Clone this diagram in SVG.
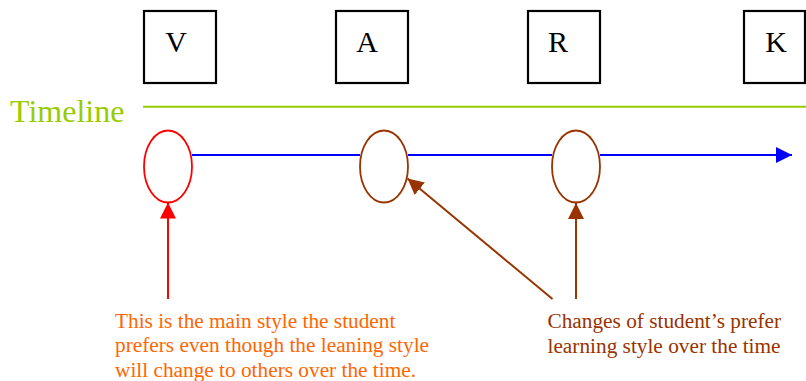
<svg xmlns="http://www.w3.org/2000/svg" width="806" height="381" viewBox="0 0 806 381">
  <style>
    .box { fill: #fff; stroke: #000; stroke-width: 2.2; }
    .letter { font-family: "Liberation Serif", "Times New Roman", serif; font-size: 30px; fill: #000; text-anchor: middle; }
    .stage { fill: none; stroke-width: 1.8; }
    .note { font-family: "Liberation Serif", "Times New Roman", serif; font-size: 21.3px; }
  </style>
  <defs>
    <marker id="headBlue" viewBox="0 0 16 16" refX="16" refY="8" markerWidth="16" markerHeight="16" markerUnits="userSpaceOnUse" orient="auto">
      <path d="M0,0 L16,8 L0,16 Z" fill="#0000ff"/>
    </marker>
    <marker id="headRed" viewBox="0 0 16 16" refX="16" refY="8" markerWidth="16" markerHeight="16" markerUnits="userSpaceOnUse" orient="auto">
      <path d="M0,0 L16,8 L0,16 Z" fill="#ff0000"/>
    </marker>
    <marker id="headBrown" viewBox="0 0 16 16" refX="16" refY="8" markerWidth="16" markerHeight="16" markerUnits="userSpaceOnUse" orient="auto">
      <path d="M0,0 L16,8 L0,16 Z" fill="#993300"/>
    </marker>
  </defs>

  <rect width="806" height="381" fill="#fff"/>

  <!-- learning style boxes -->
  <g id="box-v"><rect class="box" x="144" y="11" width="72" height="72"/><text class="letter" x="176" y="52">V</text></g>
  <g id="box-a"><rect class="box" x="336" y="11" width="72" height="72"/><text class="letter" x="367" y="52">A</text></g>
  <g id="box-r"><rect class="box" x="528" y="11" width="72" height="72"/><text class="letter" x="558" y="52">R</text></g>
  <g id="box-k"><rect class="box" x="744" y="11" width="61" height="72"/><text class="letter" x="776" y="52">K</text></g>

  <!-- timeline label -->
  <g id="timeline">
    <text x="10" y="122" font-family="Liberation Serif, Times New Roman, serif" font-size="32" fill="#99cc00">Timeline</text>
    <line x1="143" y1="106.7" x2="806" y2="106.7" stroke="#99cc00" stroke-width="2"/>
  </g>

  <!-- connectors -->
  <g id="connectors">
    <line x1="192" y1="155" x2="360" y2="155" stroke="#0000ff" stroke-width="2"/>
    <line x1="408" y1="155" x2="552" y2="155" stroke="#0000ff" stroke-width="2"/>
    <line x1="600" y1="155" x2="792" y2="155" stroke="#0000ff" stroke-width="2" marker-end="url(#headBlue)"/>
    <line x1="168" y1="299" x2="168" y2="202.5" stroke="#ff0000" stroke-width="2" marker-end="url(#headRed)"/>
    <line x1="576" y1="299" x2="576" y2="203" stroke="#993300" stroke-width="2" marker-end="url(#headBrown)"/>
    <line x1="552.5" y1="299" x2="407.5" y2="178.5" stroke="#993300" stroke-width="2" marker-end="url(#headBrown)"/>
  </g>

  <!-- stage markers on the timeline -->
  <g id="stage-v"><ellipse class="stage" cx="168" cy="166.5" rx="24" ry="36" stroke="#ff0000"/></g>
  <g id="stage-a"><ellipse class="stage" cx="384" cy="166.5" rx="24" ry="36" stroke="#993300"/></g>
  <g id="stage-r"><ellipse class="stage" cx="576" cy="166.5" rx="24" ry="36" stroke="#993300"/></g>

  <!-- notes -->
  <g id="note-main">
    <text class="note" fill="#ff6600" x="115">
      <tspan x="115" y="327.5">This is the main style the student</tspan>
      <tspan x="115" y="352">prefers even though the leaning style</tspan>
      <tspan x="115" y="376.5">will change to others over the time.</tspan>
    </text>
  </g>
  <g id="note-changes">
    <text class="note" fill="#993300">
      <tspan x="547.5" y="328">Changes of student’s prefer</tspan>
      <tspan x="547.5" y="352.5">learning style over the time</tspan>
    </text>
  </g>
</svg>
